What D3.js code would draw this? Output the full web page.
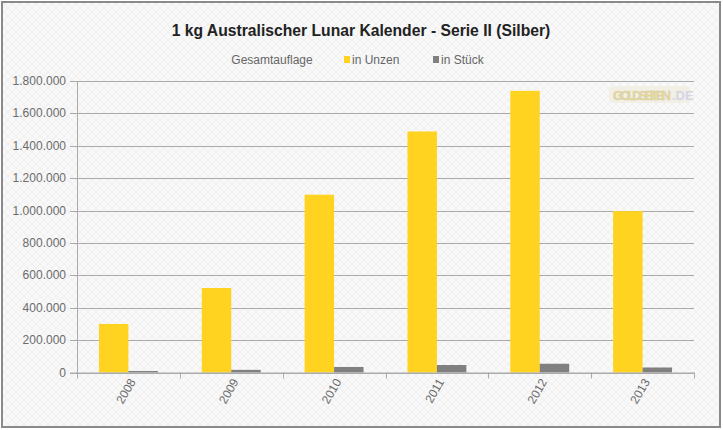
<!DOCTYPE html>
<html><head><meta charset="utf-8">
<script src="https://cdn.jsdelivr.net/npm/d3@7"></script>
<style>html,body{margin:0;padding:0;background:#fff;} svg{display:block;font-family:"Liberation Sans",Arial,sans-serif;}</style>
</head><body>
<svg id="chart" width="723" height="430"></svg>
<script>
const title = "1 kg Australischer Lunar Kalender - Serie II (Silber)";
const legendTitle = "Gesamtauflage";
const years = ["2008","2009","2010","2011","2012","2013"];
const seriesNames = ["in Unzen","in Stück"];
const unzen = [299800, 521700, 1097800, 1488500, 1739300, 996600];
const stueck = [9325, 16227, 34146, 46298, 54101, 31000];
const yTicks = [0,200000,400000,600000,800000,1000000,1200000,1400000,1600000,1800000];
const colors = ["#ffd320","#808080"];

const svg = d3.select("#chart");
const defs = svg.append("defs");
const pat = defs.append("pattern").attr("id","bg").attr("width",8).attr("height",8).attr("patternUnits","userSpaceOnUse");
pat.append("rect").attr("width",8).attr("height",8).attr("fill","#f8f8f8");
pat.append("path").attr("d","M0,0 L8,8 M8,0 L0,8").attr("stroke","#efefef").attr("stroke-width",1);
svg.append("rect").attr("x",2).attr("y",2).attr("width",718).attr("height",425).attr("fill","url(#bg)").attr("stroke","#8a8a8a").attr("stroke-width",2);

const m={l:77,r:694,t:81,b:372.5};
const x = d3.scaleBand().domain(years).range([m.l,m.r]).paddingInner(0).paddingOuter(0);
const x1 = d3.scaleBand().domain(seriesNames).range([0,x.bandwidth()]).paddingOuter(0.745).paddingInner(0);
const y = d3.scaleLinear().domain([0,1800000]).range([m.b,m.t]);
const loc = d3.formatLocale({decimal:",",thousands:".",grouping:[3],currency:["","€"]});
const fmt = loc.format(",d");

const yAxis = d3.axisLeft(y).tickValues(yTicks).tickFormat(fmt).tickSize(7).tickPadding(4);
const gy = svg.append("g").attr("transform",`translate(${m.l},0)`).call(yAxis);
gy.select(".domain").attr("stroke","#aaa");
gy.selectAll(".tick line").attr("stroke","#aaa");
gy.selectAll(".tick text").attr("fill","#6b6b6b").style("font-size","12px");
svg.append("g").selectAll("line").data(yTicks).join("line")
  .attr("x1",m.l).attr("x2",m.r).attr("y1",d=>Math.round(y(d))+0.5).attr("y2",d=>Math.round(y(d))+0.5)
  .attr("stroke","#aaa");
gy.selectAll(".tick").attr("transform",d=>`translate(0,${Math.round(y(d))+0.5})`);

const data = years.map((yr,i)=>({yr, vals:[unzen[i],stueck[i]]}));
const grp = svg.append("g").selectAll("g").data(data).join("g").attr("transform",d=>`translate(${x(d.yr)},0)`);
grp.selectAll("rect").data(d=>d.vals.map((v,j)=>({v,s:seriesNames[j],j}))).join("rect")
  .attr("x",d=>x1(d.s)).attr("width",x1.bandwidth()).attr("y",d=>y(d.v)).attr("height",d=>m.b-y(d.v))
  .attr("fill",d=>colors[d.j]);

const xAxis = d3.axisBottom(x).tickSize(0).tickFormat(d=>d);
const gx = svg.append("g").attr("transform",`translate(0,${m.b})`).call(xAxis);
gx.select(".domain").attr("stroke","#aaa");
gx.selectAll(".tick text").attr("fill","#6b6b6b").style("font-size","12px")
  .attr("text-anchor","end").attr("transform","translate(4,7) rotate(-60)").attr("dy","0.35em").attr("y",0).attr("x",0);
const bounds = years.map(d=>x(d)).concat([x(years[years.length-1])+x.bandwidth()]);
svg.append("g").selectAll("line").data(bounds).join("line")
  .attr("x1",d=>Math.round(d)+0.5).attr("x2",d=>Math.round(d)+0.5).attr("y1",m.b).attr("y2",m.b+6).attr("stroke","#aaa");

svg.append("text").attr("x",361).attr("y",36).attr("text-anchor","middle").attr("fill","#222")
  .style("font-size","15.7px").style("font-weight","bold").text(title);
svg.append("text").attr("x",272).attr("y",64).attr("text-anchor","middle").attr("fill","#666").style("font-size","12px").text(legendTitle);
const lx=[344,433];
seriesNames.forEach((s,i)=>{
  svg.append("rect").attr("x",lx[i]).attr("y",56).attr("width",6).attr("height",7).attr("fill",colors[i]);
  svg.append("text").attr("x",lx[i]+8).attr("y",64).attr("fill","#666").style("font-size","12px").text(s);
});
const wm = svg.append("g");
wm.append("rect").attr("x",609).attr("y",86).attr("width",81).attr("height",17).attr("rx",4).attr("fill","#f2f0e4");
wm.append("text").attr("x",613).attr("y",100).attr("fill","#ecd77e").attr("stroke","#d6d3c6").attr("stroke-width",0.6)
  .style("font-size","13px").style("font-weight","bold").attr("textLength",58).text("GOLDSEITEN");
wm.append("text").attr("x",672).attr("y",100).attr("fill","#d2d5e6").style("font-size","13px").style("font-weight","bold").text(".DE");
</script>
</body></html>
